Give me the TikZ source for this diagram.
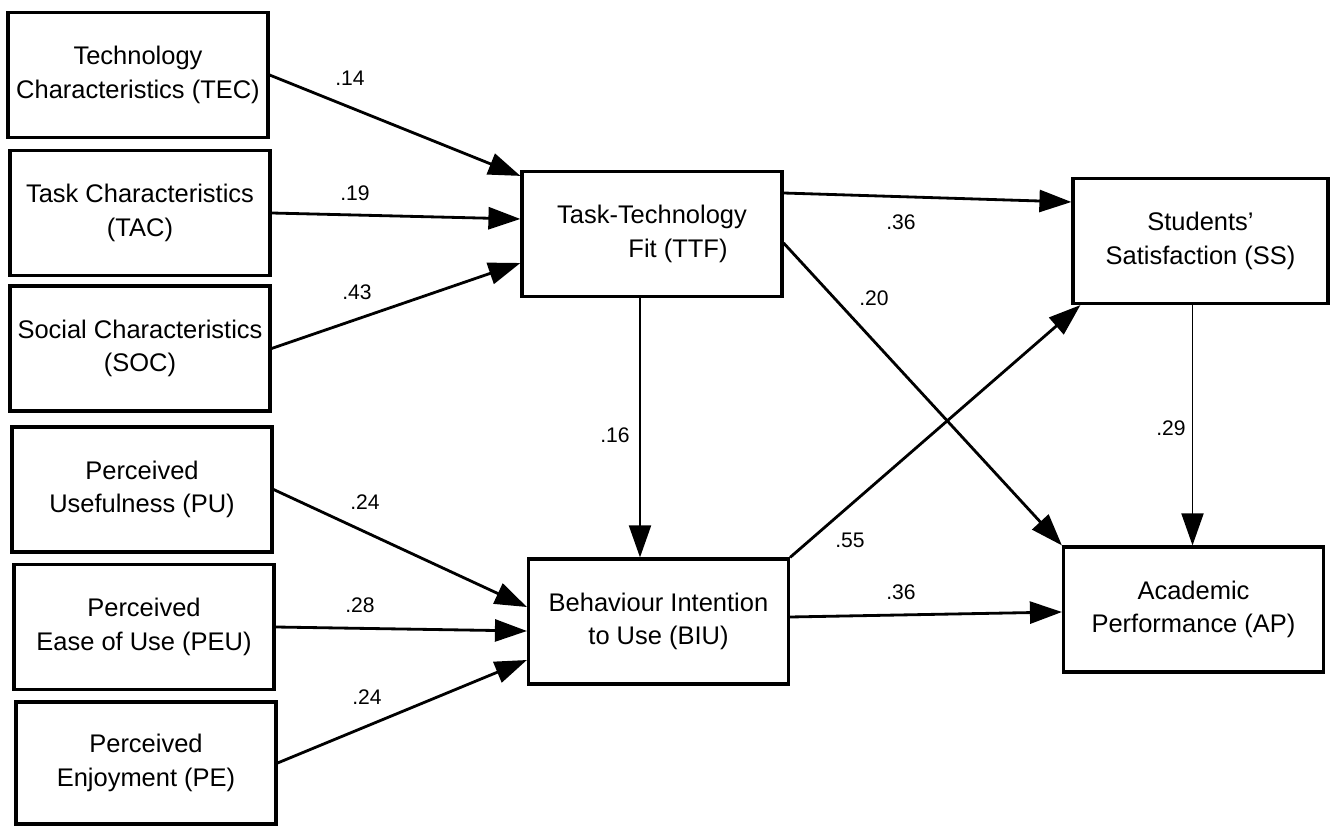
\documentclass[tikz,border=0pt]{standalone}
\usepackage{fontspec}
\setmainfont{Liberation Sans}
\usetikzlibrary{arrows.meta}

\begin{document}
\begin{tikzpicture}[
		box/.style={draw, line width=1.8pt, minimum width=5.2cm, minimum height=2.5cm, align=center, inner sep=1pt, font=\fontsize{14.5}{19}\selectfont},
		arr/.style={line width=1.6pt, -{Triangle[length=0.64cm, width=0.44cm]}},
		varr/.style={arr, line width=1.1pt},
		coef/.style={inner sep=0pt, font=\fontsize{12}{14}\selectfont}
	]
			\useasboundingbox (0, 0) rectangle (26.78, -16.52);
			% left column
			\node[box] (tec) at (2.76, -1.5) {Technology\\Characteristics (TEC)};
			\node[box] (tac) at (2.8, -4.26) {Task Characteristics\\(TAC)};
			\node[box] (soc) at (2.8, -6.97) {Social Characteristics\\(SOC)};
			\node[box] (pu) at (2.84, -9.79) {Perceived\\Usefulness (PU)};
			\node[box] (peu) at (2.88, -12.54) {Perceived\\Ease of Use (PEU)};
			\node[box, minimum height=2.44cm] (pe) at (2.92, -15.26) {Perceived\\Enjoyment (PE)};
			% middle and right
			\node[box] (ttf) at (13.04, -4.68) {Task-Technology\\\hspace*{1.04cm}Fit (TTF)};
			\node[box] (biu) at (13.17, -12.43) {Behaviour Intention\\to Use (BIU)};
			\node[box, minimum width=5.1cm] (ss) at (24.01, -4.82) {Students’\\Satisfaction (SS)};
			\node[box] (ap) at (23.87, -12.19) {Academic\\Performance (AP)};
			% paths
			\draw[arr] (tec.east) -- ([yshift=-0.12cm]ttf.north west);
			\draw[arr] (tac.east) -- ([yshift=0.3cm]ttf.west);
			\draw[arr] (soc.east) -- ([yshift=-0.58cm]ttf.west);
			\draw[arr] (pu.east) -- ([yshift=0.29cm]biu.west);
			\draw[arr] (peu.east) -- ([yshift=-0.19cm]biu.west);
			\draw[arr] (pe.east) -- ([yshift=-0.77cm]biu.west);
			\draw[arr] ([yshift=0.82cm]ttf.east) -- ([yshift=0.78cm]ss.west);
			\draw[arr] ([yshift=-0.18cm]ttf.east) -- (ap.north west);
			\draw[varr] ([xshift=-0.24cm]ttf.south) -- ([xshift=-0.24cm]ttf.south |- biu.north);
			\draw[arr] (biu.north east) -- ([xshift=0.18cm]ss.south west);
			\draw[varr] ([xshift=-0.16cm]ss.south) -- ([xshift=-0.16cm]ss.south |- ap.north);
			\draw[arr] ([yshift=0.09cm]biu.east) -- ([yshift=-0.05cm]ap.west);
			% coefficients
			\node[coef] (c14) at (7.0, -1.56) {.14};
			\node[coef] (c19) at (7.1, -3.86) {.19};
			\node[coef] (c43) at (7.14, -5.84) {.43};
			\node[coef] (cpu) at (7.3, -10.04) {.24};
			\node[coef] (c28) at (7.2, -12.1) {.28};
			\node[coef] (cpe) at (7.34, -13.94) {.24};
			\node[coef] (css) at (18.02, -4.44) {.36};
			\node[coef] (c20) at (17.48, -5.96) {.20};
			\node[coef] (c16) at (12.3, -8.7) {.16};
			\node[coef] (c29) at (23.42, -8.56) {.29};
			\node[coef] (c55) at (17.0, -10.8) {.55};
			\node[coef] (cap) at (18.02, -11.84) {.36};
		\end{tikzpicture}
\end{document}
